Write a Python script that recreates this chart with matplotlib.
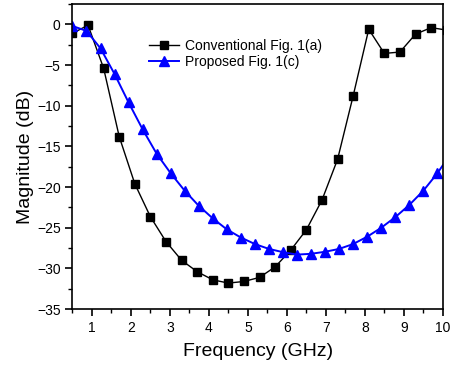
import matplotlib
matplotlib.use("Agg")
import matplotlib.pyplot as plt
from matplotlib.ticker import MultipleLocator, AutoMinorLocator

plt.rcParams['font.family'] = ['Liberation Sans', 'DejaVu Sans']

# conventional Fig. 1(a), sampled every 0.4 GHz
freq_conv = [0.5, 0.9, 1.3, 1.7, 2.1, 2.5, 2.9, 3.3, 3.7, 4.1, 4.5, 4.9, 5.3,
             5.7, 6.1, 6.5, 6.9, 7.3, 7.7, 8.1, 8.5, 8.9, 9.3, 9.7, 10.1]
mag_conv = [-1.1, -0.1, -5.4, -13.8, -19.6, -23.65, -26.7, -29.0, -30.4, -31.4,
            -31.8, -31.6, -31.1, -29.8, -27.75, -25.25, -21.6, -16.6, -8.8,
            -0.6, -3.57, -3.4, -1.2, -0.4, -0.7]

# proposed Fig. 1(c), sampled every 0.36 GHz
freq_prop = [0.5, 0.86, 1.22, 1.58, 1.94, 2.30, 2.66, 3.02, 3.38, 3.74, 4.10,
             4.46, 4.82, 5.18, 5.54, 5.90, 6.26, 6.62, 6.98, 7.34, 7.70, 8.06,
             8.42, 8.78, 9.14, 9.50, 9.86, 10.22]
mag_prop = [-0.2, -0.8, -2.95, -6.1, -9.6, -12.9, -15.9, -18.3, -20.45, -22.3,
            -23.85, -25.2, -26.2, -27.0, -27.6, -28.0, -28.3, -28.2, -27.95,
            -27.6, -27.0, -26.1, -25.0, -23.7, -22.2, -20.45, -18.3, -15.8]

fig = plt.figure(figsize=(4.5, 3.68), dpi=100)
ax = fig.add_axes([0.161, 0.160, 0.823, 0.829])

ax.plot(freq_conv, mag_conv, color='black', lw=1.0, marker='s', ms=6,
        label='Conventional Fig. 1(a)')
ax.plot(freq_prop, mag_prop, color='#0000ff', lw=1.4, marker='^', ms=7.5,
        label='Proposed Fig. 1(c)')

ax.set_xlim(0.5, 10)
ax.set_ylim(-35, 2.5)
ax.xaxis.set_major_locator(MultipleLocator(1))
ax.xaxis.set_minor_locator(AutoMinorLocator(2))
ax.yaxis.set_major_locator(MultipleLocator(5))
ax.yaxis.set_minor_locator(AutoMinorLocator(2))
ax.tick_params(which='major', direction='out', length=5, width=1.2,
               labelsize=10, top=False, right=False)
ax.tick_params(which='minor', direction='out', length=3, width=1.0,
               top=False, right=False)
for s in ax.spines.values():
    s.set_linewidth(1.2)

ax.set_xlabel('Frequency (GHz)', fontsize=14, labelpad=6)
ax.set_ylabel('Magnitude (dB)', fontsize=14, labelpad=2)

ax.legend(loc='upper left', bbox_to_anchor=(0.18, 0.918), frameon=False,
          fontsize=10, handlelength=2.2, borderaxespad=0.3, labelspacing=0.15,
          handletextpad=0.4)

fig.savefig('out.png', dpi=100)
